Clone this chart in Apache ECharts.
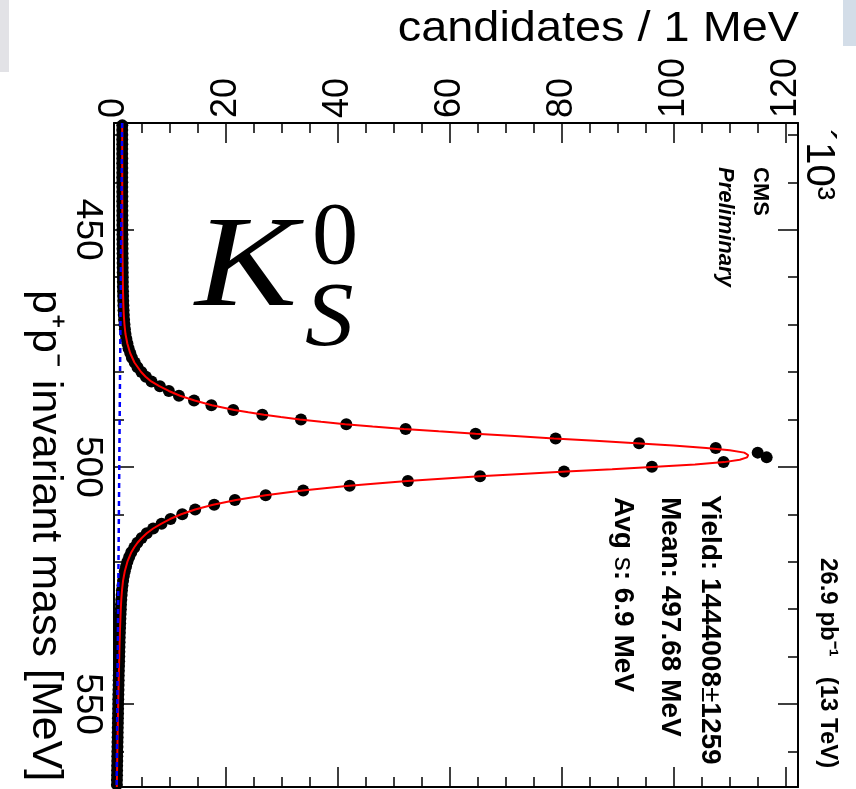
<!DOCTYPE html>
<html>
<head>
<meta charset="utf-8">
<script src="https://cdn.jsdelivr.net/npm/echarts@6/dist/echarts.min.js"></script>
<style>
html,body{margin:0;padding:0;background:#fff;}
#c{width:856px;height:789px;}
</style>
</head>
<body>
<div id="c"></div>
<script>
// ---------- data (values in units of 10^3 candidates per 1 MeV) ----------
const massBins = Array.from({length: 140}, (_, i) => 428 + i); // bin centres 428 ... 567 MeV
const counts = [
  1.48,1.47,1.48,1.47,1.48,1.47,1.47,1.48,1.47,1.48,
  1.48,1.47,1.48,1.48,1.48,1.49,1.48,1.49,1.49,1.49,
  1.50,1.50,1.50,1.51,1.51,1.52,1.52,1.53,1.54,1.54,
  1.55,1.56,1.57,1.58,1.59,1.61,1.63,1.65,1.68,1.71,
  1.75,1.80,1.87,1.95,2.05,2.20,2.40,2.60,2.90,3.20,
  3.70,4.20,4.90,5.70,6.70,8.20,9.80,11.6,14.3,17.4,
  21.3,26.5,33.4,41.5,52.1,64.6,78.9,93.8,107.5,115.0,
  116.6,108.9,96.1,80.4,65.4,52.5,42.1,33.8,27.1,21.6,
  17.9,14.5,12.2,10.1,8.5,7.0,5.85,4.94,4.18,3.63,
  3.09,2.71,2.39,2.15,1.93,1.75,1.62,1.51,1.42,1.36,
  1.30,1.25,1.22,1.18,1.14,1.11,1.08,1.05,1.02,1.00,
  0.98,0.96,0.94,0.92,0.90,0.87,0.85,0.83,0.82,0.80,
  0.78,0.76,0.75,0.73,0.72,0.70,0.69,0.67,0.66,0.65,
  0.63,0.62,0.60,0.59,0.58,0.56,0.55,0.54,0.53,0.52
];
const fitMass = [
  427.5,432,436,440,444,448,452,456,460,463,
  466,468,470,472,474,476,478,480,481,482,
  483,484,485,486,487,488,488.5,489,489.5,490,
  490.5,491,491.5,492,492.5,493,493.5,494,494.5,495,
  495.5,496,496.5,497,497.5,497.7,498,498.5,499,499.5,
  500,500.5,501,501.5,502,502.5,503,503.5,504,504.5,
  505,505.5,506,506.5,507,508,509,510,511,512,
  513,514,515,516,517,518,520,522,524,526,
  528,530,534,538,542,546,550,555,560,567.5
];
const fitCounts = [
  1.47,1.47,1.47,1.47,1.48,1.49,1.51,1.53,1.57,1.61,
  1.68,1.75,1.87,2.05,2.38,2.88,3.65,4.85,5.65,6.65,
  8.1,9.8,11.8,14.4,17.5,21.5,24.0,26.8,29.8,33.2,
  37.0,41.3,46.2,51.8,58.0,64.6,71.6,78.6,86.0,93.3,
  99.9,105.8,110.0,112.6,113.3,113.4,113.1,111.8,109.0,103.8,
  96.8,89.0,80.8,72.8,65.3,58.5,52.4,46.9,42.0,37.6,
  33.7,30.2,27.1,24.3,21.8,17.7,14.5,12.0,10.0,8.4,
  7.0,5.85,4.95,4.2,3.6,3.1,2.4,1.93,1.62,1.43,
  1.30,1.21,1.08,0.98,0.90,0.82,0.75,0.67,0.60,0.51
];
const bkgMass = [427.5, 567.5];
const bkgCounts = [1.45, 0.47];

const countTicks = [0, 20, 40, 60, 80, 100, 120];
const countMinorTicks = [5,10,15,25,30,35,45,50,55,65,70,75,85,90,95,105,110,115];
const massTicks = [450, 500, 550];
const massMinorTicks = [430,440,460,470,480,490,510,520,530,540,560];

// ---------- styling ----------
const FONT = '"Liberation Sans", Arial, Helvetica, sans-serif';
const SERIF = '"Liberation Serif", "Times New Roman", serif';
const CW = -Math.PI / 2;
const BLACK = '#000000';

function countAxis(position, ticks, tickLen, withLine, withLabels) {
  return {
    type: 'value', gridIndex: 0, position: position, min: 0, max: 122.2,
    axisLine: {show: withLine, onZero: false, lineStyle: {color: BLACK, width: 2}},
    axisTick: {show: true, inside: true, length: tickLen, customValues: ticks, lineStyle: {color: BLACK, width: 1.5}},
    axisLabel: withLabels ? {show: true, customValues: ticks, rotate: -90, margin: 5, fontSize: 36, fontFamily: FONT, color: BLACK} : {show: false},
    splitLine: {show: false}, minorTick: {show: false}
  };
}
function massAxis(position, ticks, tickLen, withLine, withLabels) {
  return {
    type: 'value', gridIndex: 0, position: position, min: 427.5, max: 567.5, inverse: true,
    axisLine: {show: withLine, onZero: false, lineStyle: {color: BLACK, width: 2}},
    axisTick: {show: true, inside: true, length: tickLen, customValues: ticks, lineStyle: {color: BLACK, width: 1.5}},
    axisLabel: withLabels ? {show: true, customValues: ticks, rotate: -90, margin: 8, fontSize: 37, fontFamily: FONT, color: BLACK} : {show: false},
    splitLine: {show: false}, minorTick: {show: false}
  };
}

function rotText(x, y, text, size, extra) {
  return {
    type: 'text', x: x, y: y, rotation: CW, silent: true,
    style: Object.assign({text: text, fontSize: size, fontFamily: FONT, fill: BLACK, align: 'left', verticalAlign: 'middle'}, extra || {})
  };
}

const chart = echarts.init(document.getElementById('c'), null, {renderer: 'canvas'});
chart.setOption({
  animation: false,
  backgroundColor: '#ffffff',
  grid: {left: 114, top: 123, width: 684, height: 664, containLabel: false},
  xAxis: [
    countAxis('top', countTicks, 20, true, true),
    countAxis('top', countMinorTicks, 10, false, false),
    countAxis('bottom', countTicks, 20, true, false),
    countAxis('bottom', countMinorTicks, 10, false, false)
  ],
  yAxis: [
    massAxis('left', massTicks, 20, true, true),
    massAxis('left', massMinorTicks, 10, false, false),
    massAxis('right', massTicks, 20, true, false),
    massAxis('right', massMinorTicks, 10, false, false)
  ],
  series: [
    {
      type: 'scatter', name: 'data', xAxisIndex: 0, yAxisIndex: 0,
      data: massBins.map((m, i) => [counts[i], m]),
      symbol: 'circle', symbolSize: 12, itemStyle: {color: BLACK, opacity: 1}, z: 2
    },
    {
      type: 'line', name: 'fit', xAxisIndex: 0, yAxisIndex: 0,
      data: fitMass.map((m, i) => [fitCounts[i], m]),
      symbol: 'none', showSymbol: false, smooth: false,
      lineStyle: {color: '#ff0000', width: 2}, z: 3
    },
    {
      type: 'line', name: 'background', xAxisIndex: 0, yAxisIndex: 0,
      data: bkgMass.map((m, i) => [bkgCounts[i], m]),
      symbol: 'none', showSymbol: false,
      lineStyle: {color: '#0000ff', width: 2.5, type: [5, 4]}, z: 4
    }
  ],
  graphic: [
    {type: 'rect', silent: true, shape: {x: 0, y: 0, width: 9, height: 72}, style: {fill: '#e2e2e6'}},
    {type: 'rect', silent: true, shape: {x: 843, y: 0, width: 13, height: 46}, style: {fill: '#d3dde8'}},
    {
      type: 'text', x: 799, y: 29, scaleX: 1.09, silent: true,
      style: {text: 'candidates / 1 MeV', fontSize: 43, fontFamily: FONT, fill: BLACK, align: 'right', verticalAlign: 'middle'}
    },
    rotText(818, 129, '´10³', 40),
    rotText(760, 167, 'CMS', 22, {fontWeight: 'bold'}),
    rotText(725, 167, 'Preliminary', 22, {fontWeight: 'bold', fontStyle: 'italic'}),
    rotText(710, 495, '{b|Yield: 1444008}{n|±}{b|1259}', 28, {
      rich: {b: {fontSize: 28, fontWeight: 'bold', fontFamily: FONT}, n: {fontSize: 28, fontWeight: 'normal', fontFamily: FONT}}
    }),
    rotText(670, 497, 'Mean: 497.68 MeV', 28, {fontWeight: 'bold'}),
    rotText(623, 497, '{b|Avg }{n|s}{b|: 6.9 MeV}', 28, {
      rich: {b: {fontSize: 28, fontWeight: 'bold', fontFamily: FONT}, n: {fontSize: 28, fontWeight: 'normal', fontFamily: FONT}}
    }),
    rotText(828, 558, '26.9 pb⁻¹   (13 TeV)', 24, {fontWeight: 'bold'}),
    rotText(45, 290, 'p⁺p⁻ invariant mass [MeV]', 43),
    {
      type: 'text', x: 195, y: 271, scaleX: 1.18, silent: true,
      style: {text: 'K', fontSize: 130, fontFamily: SERIF, fontStyle: 'italic', fill: BLACK, align: 'left', verticalAlign: 'middle'}
    },
    {
      type: 'text', x: 312, y: 240, scaleX: 1.05, silent: true,
      style: {text: '0', fontSize: 88, fontFamily: SERIF, fill: BLACK, align: 'left', verticalAlign: 'middle'}
    },
    {
      type: 'text', x: 305, y: 321, scaleX: 1.08, silent: true,
      style: {text: 'S', fontSize: 90, fontFamily: SERIF, fontStyle: 'italic', fill: BLACK, align: 'left', verticalAlign: 'middle'}
    }
  ]
});
</script>
</body>
</html>
